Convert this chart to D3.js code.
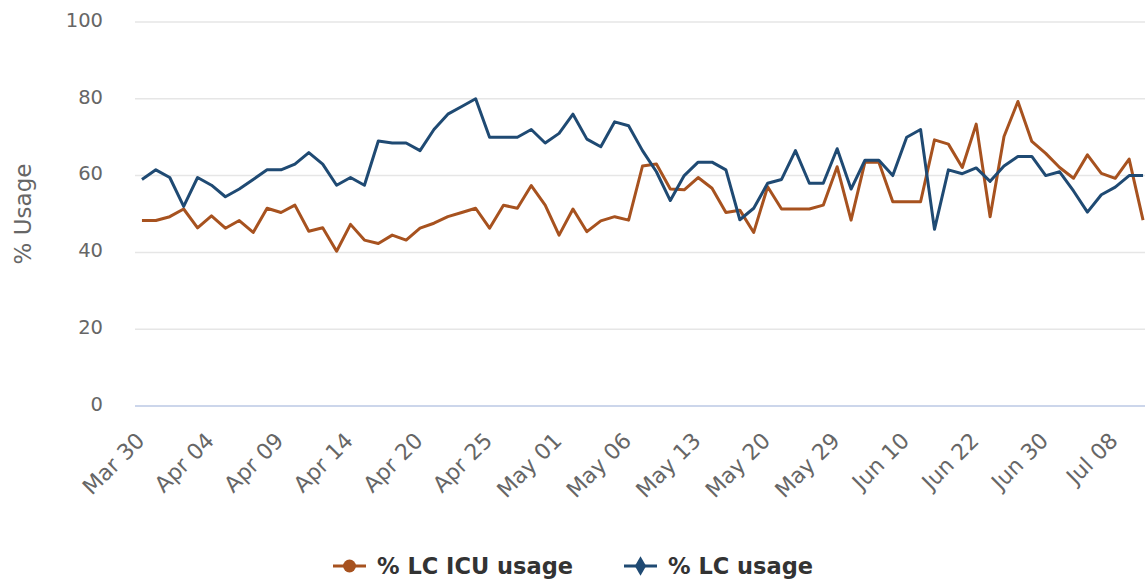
<!DOCTYPE html>
<html>
<head>
<meta charset="UTF-8">
<title>% LC usage</title>
<script src="https://cdnjs.cloudflare.com/ajax/libs/d3/7.8.5/d3.min.js"></script>
<style>
  body { margin: 0; background: #fff; }
  svg { display: block; font-family: "DejaVu Sans", Verdana, sans-serif; }
</style>
</head>
<body>
<svg id="chart" width="1145" height="583"></svg>
<script>
// Categories (one per reported day)
var dates = [
  'Mar 30','Mar 31','Apr 01','Apr 02','Apr 03',
  'Apr 04','Apr 05','Apr 06','Apr 07','Apr 08',
  'Apr 09','Apr 10','Apr 11','Apr 12','Apr 13',
  'Apr 14','Apr 15','Apr 16','Apr 17','Apr 19',
  'Apr 20','Apr 21','Apr 22','Apr 23','Apr 24',
  'Apr 25','Apr 27','Apr 28','Apr 29','Apr 30',
  'May 01','May 02','May 03','May 04','May 05',
  'May 06','May 07','May 08','May 11','May 12',
  'May 13','May 14','May 15','May 18','May 19',
  'May 20','May 21','May 22','May 26','May 27',
  'May 29','Jun 01','Jun 02','Jun 04','Jun 08',
  'Jun 10','Jun 12','Jun 15','Jun 17','Jun 19',
  'Jun 22','Jun 23','Jun 24','Jun 26','Jun 29',
  'Jun 30','Jul 01','Jul 02','Jul 06','Jul 07',
  'Jul 08','Jul 09','Jul 10'
];

// % LC ICU usage
var icuUsage = [
  48.3, 48.3, 49.3, 51.3, 46.4, 49.5, 46.3, 48.3, 45.2, 51.5,
  50.4, 52.3, 45.5, 46.4, 40.3, 47.3, 43.2, 42.3, 44.5, 43.2,
  46.3, 47.6, 49.3, 50.4, 51.5, 46.3, 52.3, 51.5, 57.4, 52.3,
  44.5, 51.3, 45.4, 48.2, 49.3, 48.4, 62.5, 63.0, 56.5, 56.3,
  59.5, 56.7, 50.4, 51.0, 45.2, 57.1, 51.3, 51.3, 51.3, 52.3,
  62.3, 48.4, 63.5, 63.5, 53.2, 53.2, 53.2, 69.3, 68.2, 62.1,
  73.4, 49.3, 70.2, 79.3, 68.9, 65.8, 62.1, 59.3, 65.4, 60.6,
  59.3, 64.3, 48.4
];

// % LC usage
var lcUsage = [
  59.0, 61.5, 59.5, 52.0, 59.5, 57.5, 54.5, 56.5, 59.0, 61.5,
  61.5, 63.0, 66.0, 63.0, 57.5, 59.5, 57.5, 69.0, 68.5, 68.5,
  66.5, 72.0, 76.0, 78.0, 80.0, 70.0, 70.0, 70.0, 72.0, 68.5,
  71.0, 76.0, 69.5, 67.5, 74.0, 73.0, 66.5, 61.0, 53.5, 60.0,
  63.5, 63.5, 61.5, 48.5, 51.5, 58.0, 59.0, 66.5, 58.0, 58.0,
  67.0, 56.5, 64.0, 64.0, 60.0, 70.0, 72.0, 46.0, 61.5, 60.5,
  62.0, 58.5, 62.5, 65.0, 65.0, 60.0, 61.0, 56.0, 50.5, 55.0,
  57.0, 60.0, 60.0
];

var yTicks = [0, 20, 40, 60, 80, 100];
var labelEvery = 5;

var series = [
  { name: '% LC ICU usage', values: icuUsage, color: '#a7521f', symbol: d3.symbolCircle },
  { name: '% LC usage', values: lcUsage, color: '#1f4a73', symbol: d3.symbolDiamond }
];

var svg = d3.select('#chart');

var x = d3.scaleBand().domain(dates).range([135, 1150]);
var y = d3.scaleLinear().domain([0, 100]).range([406, 22]);
function cx(d) { return x(d) + x.bandwidth() / 2; }

// Gridlines
svg.append('g')
  .selectAll('line')
  .data(yTicks.filter(function(t) { return t > 0; }))
  .enter().append('line')
  .attr('x1', 135).attr('x2', 1145)
  .attr('y1', function(d) { return y(d); })
  .attr('y2', function(d) { return y(d); })
  .attr('stroke', '#e6e6e6')
  .attr('stroke-width', 1.5);

// X axis line
svg.append('line')
  .attr('x1', 135).attr('x2', 1145)
  .attr('y1', y(0)).attr('y2', y(0))
  .attr('stroke', '#ccd6eb')
  .attr('stroke-width', 2);

// Y axis labels
svg.append('g')
  .selectAll('text')
  .data(yTicks)
  .enter().append('text')
  .attr('x', 103)
  .attr('y', function(d) { return y(d) - 2; })
  .attr('dy', '0.35em')
  .attr('text-anchor', 'end')
  .attr('fill', '#666')
  .style('font-size', '19.5px')
  .text(function(d) { return d; });

// Y axis title
svg.append('text')
  .attr('transform', 'translate(31,214) rotate(-90)')
  .attr('text-anchor', 'middle')
  .attr('fill', '#666')
  .style('font-size', '23px')
  .text('% Usage');

// X axis labels
svg.append('g')
  .selectAll('text')
  .data(dates.filter(function(d, i) { return i % labelEvery === 0; }))
  .enter().append('text')
  .attr('transform', function(d) { return 'translate(' + (cx(d) + 4) + ',442) rotate(-45)'; })
  .attr('text-anchor', 'end')
  .attr('fill', '#666')
  .style('font-size', '22px')
  .text(function(d) { return d; });

// Lines
var line = d3.line()
  .x(function(d, i) { return cx(dates[i]); })
  .y(function(d) { return y(d); });

svg.append('g')
  .selectAll('path')
  .data(series)
  .enter().append('path')
  .attr('d', function(s) { return line(s.values); })
  .attr('fill', 'none')
  .attr('stroke', function(s) { return s.color; })
  .attr('stroke-width', 3)
  .attr('stroke-linejoin', 'round');

// Legend
var legendX = [333, 624];
var legend = svg.append('g')
  .selectAll('g')
  .data(series)
  .enter().append('g')
  .attr('transform', function(s, i) { return 'translate(' + legendX[i] + ',566)'; });

legend.append('line')
  .attr('x1', 0).attr('x2', 33)
  .attr('stroke', function(s) { return s.color; })
  .attr('stroke-width', 3);

legend.append('path')
  .attr('transform', 'translate(16.5,0)')
  .attr('d', function(s) { return d3.symbol().type(s.symbol).size(s.symbol === d3.symbolCircle ? 130 : 110)(); })
  .attr('fill', function(s) { return s.color; });

legend.append('text')
  .attr('x', 44)
  .attr('dy', '0.35em')
  .attr('fill', '#333')
  .style('font-size', '22.5px')
  .style('font-weight', 'bold')
  .text(function(s) { return s.name; });
</script>
</body>
</html>
